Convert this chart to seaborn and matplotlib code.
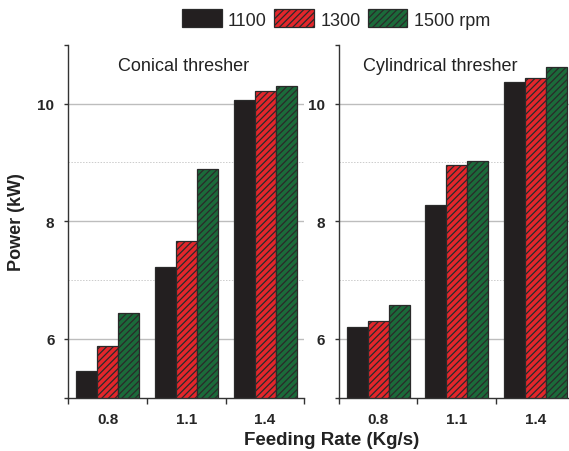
import matplotlib
matplotlib.use("Agg")
import matplotlib.pyplot as plt
import seaborn as sns
import pandas as pd
from matplotlib.patches import Patch

sns.set_style("ticks")
plt.rcParams['font.family'] = ['Liberation Sans', 'DejaVu Sans']
plt.rcParams['hatch.linewidth'] = 0.9
plt.rcParams['hatch.color'] = '#111111'

feed_rates = ["0.8", "1.1", "1.4"]
speeds = ["1100", "1300", "1500 rpm"]
conical_1100 = [5.45, 7.22, 10.06]
conical_1300 = [5.88, 7.66, 10.21]
conical_1500 = [6.44, 8.89, 10.29]
cyl_1100 = [6.20, 8.27, 10.37]
cyl_1300 = [6.31, 8.95, 10.43]
cyl_1500 = [6.57, 9.03, 10.62]
panel_titles = ["Conical thresher", "Cylindrical thresher"]

def make_df(a, b, c):
    rows = []
    for s, vals in zip(speeds, [a, b, c]):
        for f, v in zip(feed_rates, vals):
            rows.append({"feed": f, "speed": s, "power": v})
    return pd.DataFrame(rows)

dfs = [make_df(conical_1100, conical_1300, conical_1500),
       make_df(cyl_1100, cyl_1300, cyl_1500)]

colors = ['#231f20', '#e3262b', '#1b6a3a']
hatches = [None, '/////', '/////']

fig = plt.figure(figsize=(5.69, 4.52), dpi=100)
positions = [[68.3/569, 53.3/452, 236.1/569, 353/452],
             [338.7/569, 53.3/452, 236.3/569, 353/452]]
title_x = [0.49, 0.431]

for i, (df, pos) in enumerate(zip(dfs, positions)):
    ax = fig.add_axes(pos)
    sns.barplot(data=df, x="feed", y="power", hue="speed", order=feed_rates,
                hue_order=speeds, palette=colors, width=0.8, ax=ax,
                edgecolor='#2a2a2a', linewidth=0.9, legend=False, saturation=1)
    for cont, h in zip(ax.containers, hatches):
        for p in cont:
            if h:
                p.set_hatch(h)
    ax.set_ylim(5, 11)
    ax.set_xlim(-0.5, 2.5)
    for y in [6, 8, 10]:
        ax.axhline(y, color='#bdbdbd', lw=1.0, zorder=0)
    for y in [7, 9]:
        ax.axhline(y, color='#cccccc', lw=0.7, ls=(0, (1.5, 1.5)), zorder=0)
    ax.set_yticks([5, 6, 8, 10, 11])
    ax.set_yticklabels(['', '6', '8', '10', ''], fontsize=11, fontweight='bold')
    ax.set_xticks([-0.5, 0.5, 1.5, 2.5])
    ax.set_xticklabels([])
    ax.set_xticks([0, 1, 2], minor=True)
    ax.set_xticklabels(feed_rates, minor=True, fontsize=11, fontweight='bold')
    ax.tick_params(axis='x', which='minor', length=0, pad=10)
    ax.tick_params(axis='x', which='major', length=4, width=1, color='#333333')
    ax.tick_params(axis='y', which='major', length=3, width=1, color='#333333', pad=7)
    for s in ['top', 'right']:
        ax.spines[s].set_visible(False)
    for s in ['left', 'bottom']:
        ax.spines[s].set_color('#333333')
        ax.spines[s].set_linewidth(1)
    ax.set_xlabel('')
    ax.set_ylabel('')
    ax.text(title_x[i], 0.942, panel_titles[i], transform=ax.transAxes,
            ha='center', va='center', fontsize=13, color='#222222')

fig.text(17/569, 1 - 222/452, 'Power (kW)', rotation=90, ha='center', va='center',
         fontsize=13, fontweight='bold', color='#222222')
fig.text(332/569, 1 - 441/452, 'Feeding Rate (Kg/s)', ha='center', va='center',
         fontsize=13.5, fontweight='bold', color='#222222')

handles = [Patch(facecolor=c, edgecolor='#2a2a2a', hatch=h, linewidth=0.9)
           for c, h in zip(colors, hatches)]
fig.legend(handles, speeds, loc='center', bbox_to_anchor=(336/569, 1 - 20/452),
           ncol=3, frameon=False, fontsize=13, handlelength=2.2, handleheight=1.15,
           handletextpad=0.35, columnspacing=0.4, borderpad=0, borderaxespad=0)

fig.savefig('out.png', dpi=100)
